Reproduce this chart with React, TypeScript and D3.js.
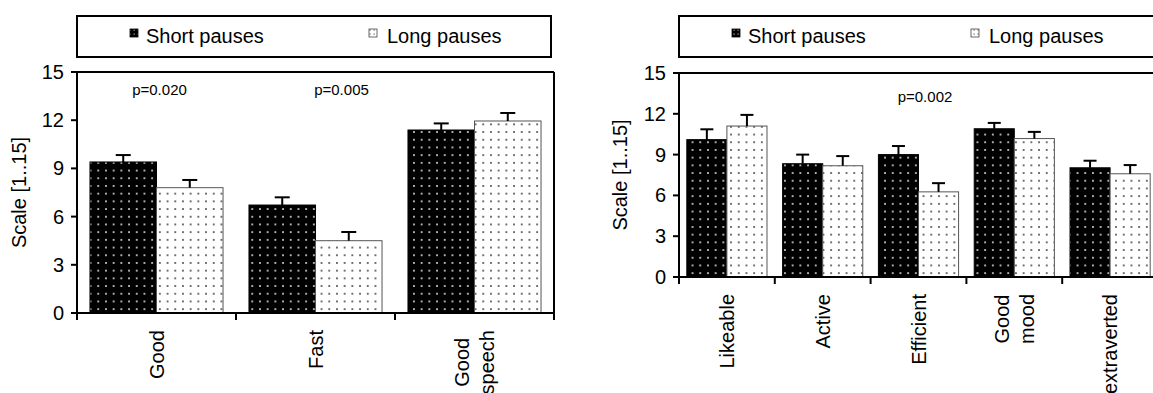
import React from "react";
import * as d3 from "d3";

// ---------- data ----------
const seriesNames = ["Short pauses", "Long pauses"];
const yTicks = [0, 3, 6, 9, 12, 15];

const leftCategories = ["Good", "Fast", "Good\nspeech"];
const leftShort = [9.4, 6.72, 11.39];
const leftShortErr = [0.43, 0.48, 0.41];
const leftLong = [7.8, 4.5, 11.95];
const leftLongErr = [0.48, 0.54, 0.5];
const leftPLabels = ["p=0.020", "p=0.005", ""];

const rightCategories = ["Likeable", "Active", "Efficient", "Good\nmood", "extraverted"];
const rightShort = [10.1, 8.33, 9.0, 10.9, 8.03];
const rightShortErr = [0.76, 0.67, 0.63, 0.43, 0.52];
const rightLong = [11.1, 8.18, 6.26, 10.18, 7.59];
const rightLongErr = [0.82, 0.71, 0.64, 0.49, 0.64];
const rightPLabels = ["", "", "p=0.002", "", ""];

const FONT = '"Liberation Sans", Arial, Helvetica, sans-serif';

let measureCtx: CanvasRenderingContext2D | null = null;
function textWidth(s: string, size: number) {
  if (!measureCtx) {
    const c = document.createElement("canvas");
    measureCtx = c.getContext("2d");
  }
  if (measureCtx) {
    measureCtx.font = `${size}px "Liberation Sans", Arial, sans-serif`;
    return measureCtx.measureText(s).width;
  }
  return s.length * size * 0.55;
}

type ChartProps = {
  id: string;
  categories: string[];
  short: number[];
  shortErr: number[];
  long: number[];
  longErr: number[];
  pLabels: string[];
  x0: number;
  x1: number;
  yTop: number;
  yBottom: number;
  legendX: number;
  legendW: number;
  titleX: number;
  tickLabelGap: number;
  capW: number;
  pValue: number;
  pDx: number[];
};

function BarChart(p: ChartProps) {
  const fs = 20;
  const x = d3.scaleBand<string>().domain(p.categories).range([p.x0, p.x1]).padding(0);
  const sub = d3
    .scaleBand<string>()
    .domain(["short", "long"])
    .range([0, x.bandwidth()])
    .paddingInner(0)
    .paddingOuter(0.195);
  const y = d3.scaleLinear().domain([0, 15]).range([p.yBottom, p.yTop]);
  const bw = sub.bandwidth();
  const series = [
    { key: "short", vals: p.short, errs: p.shortErr, fill: `url(#${p.id}-dark)`, stroke: "#000" },
    { key: "long", vals: p.long, errs: p.longErr, fill: `url(#${p.id}-light)`, stroke: "#555" },
  ];
  const boundaries = p.categories.map((c) => x(c)!).concat([p.x1]);
  const labelTop = p.yBottom + 17;
  const lineGap = 25;

  return (
    <g>
      <defs>
        <pattern id={`${p.id}-dark`} patternUnits="userSpaceOnUse" width={7.7} height={7.7} x={p.x0 + 2} y={p.yBottom}>
          <rect width={7.7} height={7.7} fill="#000" />
          <rect x={3} y={3} width={1.7} height={1.7} fill="#e0e0e0" />
        </pattern>
        <pattern id={`${p.id}-light`} patternUnits="userSpaceOnUse" width={7.7} height={7.7} x={p.x0 + 2} y={p.yBottom}>
          <rect width={7.7} height={7.7} fill="#fff" />
          <rect x={3} y={3} width={1.7} height={1.7} fill="#444" />
        </pattern>
        <pattern id={`${p.id}-ldark`} patternUnits="userSpaceOnUse" width={4} height={4}>
          <rect width={4} height={4} fill="#000" />
          <rect x={1.5} y={1.5} width={1.2} height={1.2} fill="#bbb" />
        </pattern>
        <pattern id={`${p.id}-llight`} patternUnits="userSpaceOnUse" width={4} height={4}>
          <rect width={4} height={4} fill="#fff" />
          <rect x={1.5} y={1.5} width={1.2} height={1.2} fill="#666" />
        </pattern>
      </defs>

      {/* legend */}
      <rect x={p.legendX} y={16} width={p.legendW} height={41} fill="#fff" stroke="#000" strokeWidth={2} />
      {seriesNames.map((name, i) => {
        const sx = p.legendX + (i === 0 ? 53 : 292);
        return (
          <g key={name}>
            <rect
              x={sx}
              y={29}
              width={8}
              height={8}
              fill={i === 0 ? `url(#${p.id}-ldark)` : `url(#${p.id}-llight)`}
              stroke={i === 0 ? "#000" : "#444"}
              strokeWidth={0.8}
            />
            <text x={sx + (i === 0 ? 16 : 18)} y={43} fontSize={fs} fontFamily={FONT} fill="#000">
              {name}
            </text>
          </g>
        );
      })}

      {/* bars */}
      {p.categories.map((c, ci) =>
        series.map((s) => {
          const bx = x(c)! + sub(s.key)!;
          const v = s.vals[ci];
          const top = y(v);
          const etop = y(v + s.errs[ci]);
          const cx = bx + bw / 2;
          return (
            <g key={c + s.key}>
              <rect x={bx} y={top} width={bw} height={p.yBottom - top} fill={s.fill} stroke={s.stroke} strokeWidth={1} />
              <line x1={cx} x2={cx} y1={top} y2={etop} stroke="#000" strokeWidth={2} />
              <line x1={cx - p.capW / 2} x2={cx + p.capW / 2} y1={etop} y2={etop} stroke="#000" strokeWidth={2} />
            </g>
          );
        })
      )}

      {/* frame */}
      <line x1={p.x0} x2={p.x1} y1={p.yTop} y2={p.yTop} stroke="#000" strokeWidth={2} />
      <line x1={p.x1} x2={p.x1} y1={p.yTop} y2={p.yBottom} stroke="#000" strokeWidth={2} />
      <line x1={p.x0} x2={p.x0} y1={p.yTop - 1} y2={p.yBottom + 1} stroke="#000" strokeWidth={2} />
      <line x1={p.x0} x2={p.x1} y1={p.yBottom} y2={p.yBottom} stroke="#000" strokeWidth={2} />

      {/* y ticks */}
      {yTicks.map((t) => (
        <g key={t}>
          <line x1={p.x0 - 6} x2={p.x0} y1={y(t)} y2={y(t)} stroke="#000" strokeWidth={2} />
          <text
            x={p.x0 - p.tickLabelGap}
            y={y(t)}
            dy="0.35em"
            textAnchor="end"
            fontSize={fs}
            fontFamily={FONT}
            fill="#000"
          >
            {t}
          </text>
        </g>
      ))}

      {/* x ticks */}
      {boundaries.map((bx, i) => (
        <line key={i} x1={bx} x2={bx} y1={p.yBottom} y2={p.yBottom + 7} stroke="#000" strokeWidth={2} />
      ))}

      {/* x labels */}
      {p.categories.map((c) => {
        const lines = c.split("\n");
        const maxW = Math.max(...lines.map((l) => textWidth(l, fs)));
        const cx = x(c)! + x.bandwidth() / 2;
        const yc = labelTop + maxW / 2;
        return lines.map((l, li) => {
          const lx = cx + (li - (lines.length - 1) / 2) * lineGap;
          return (
            <text
              key={c + li}
              transform={`translate(${lx},${yc}) rotate(-90)`}
              textAnchor="middle"
              dy="0.35em"
              fontSize={fs}
              fontFamily={FONT}
              fill="#000"
            >
              {l}
            </text>
          );
        });
      })}

      {/* p-value annotations */}
      {p.categories.map((c, ci) =>
        p.pLabels[ci] ? (
          <text
            key={"p" + c}
            x={x(c)! + x.bandwidth() / 2 + p.pDx[ci]}
            y={y(p.pValue)}
            textAnchor="middle"
            fontSize={15}
            fontFamily={FONT}
            fill="#000"
          >
            {p.pLabels[ci]}
          </text>
        ) : null
      )}

      {/* y title */}
      <text
        transform={`translate(${p.titleX},${(p.yTop + p.yBottom) / 2}) rotate(-90)`}
        textAnchor="middle"
        dy="0.35em"
        fontSize={fs}
        fontFamily={FONT}
        fill="#000"
      >
        Scale [1..15]
      </text>
    </g>
  );
}

export default function App() {
  return (
    <svg
      width={1153}
      height={393}
      viewBox="0 0 1153 393"
      style={{ position: "absolute", left: 0, top: 0, background: "#fff" }}
    >
      <rect width={1153} height={393} fill="#fff" />
      <BarChart
        id="l"
        categories={leftCategories}
        short={leftShort}
        shortErr={leftShortErr}
        long={leftLong}
        longErr={leftLongErr}
        pLabels={leftPLabels}
        x0={77}
        x1={554}
        yTop={72}
        yBottom={313}
        legendX={77}
        legendW={474}
        titleX={19}
        tickLabelGap={13}
        capW={15}
        pValue={13.57}
        pDx={[3, 26, 0]}
      />
      <BarChart
        id="r"
        categories={rightCategories}
        short={rightShort}
        shortErr={rightShortErr}
        long={rightLong}
        longErr={rightLongErr}
        pLabels={rightPLabels}
        x0={679}
        x1={1158}
        yTop={73}
        yBottom={277}
        legendX={679}
        legendW={480}
        titleX={620}
        tickLabelGap={13}
        capW={13}
        pValue={12.86}
        pDx={[0, 0, 6.5, 0, 0]}
      />
    </svg>
  );
}
